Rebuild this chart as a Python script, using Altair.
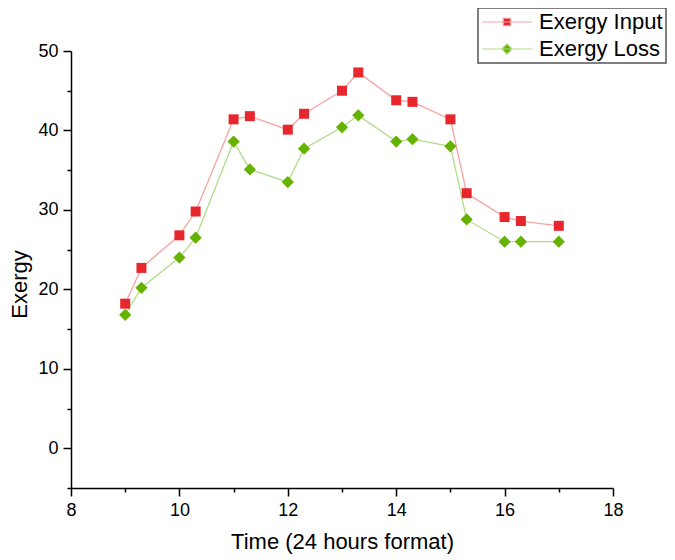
import altair as alt
import pandas as pd

# ---- data ----
times = [9, 9.3, 10, 10.3, 11, 11.3, 12, 12.3, 13, 13.3, 14, 14.3, 15, 15.3, 16, 16.3, 17]
exergy_input = [18.2, 22.7, 26.8, 29.8, 41.4, 41.8, 40.1, 42.1, 45.0, 47.3,
                43.8, 43.6, 41.4, 32.1, 29.1, 28.6, 28.0]
exergy_loss = [16.8, 20.2, 24.0, 26.5, 38.6, 35.1, 33.5, 37.7, 40.4, 41.9,
               38.6, 38.9, 38.0, 28.8, 26.0, 26.0, 26.0]
series_names = ["Exergy Input", "Exergy Loss"]
x_major = [8, 10, 12, 14, 16, 18]
x_minor = [9, 11, 13, 15, 17]
y_major = [0, 10, 20, 30, 40, 50]
y_minor = [-5, 5, 15, 25, 35, 45]

marker_colors = ["#E8262D", "#66B200"]
line_colors = ["#F4A3A3", "#B3DB8A"]

df = pd.DataFrame({
    "time": times * 2,
    "value": exergy_input + exergy_loss,
    "series": [series_names[0]] * len(times) + [series_names[1]] * len(times),
})

FONT = "Liberation Sans"
W, H = 542, 437

x_scale = alt.Scale(domain=[8, 18], nice=False, zero=False)
y_scale = alt.Scale(domain=[-5, 50], nice=False, zero=False)

axis_common = dict(
    domainColor="#000000", domainWidth=1.5, tickColor="#000000", tickWidth=1.5,
    labelFont=FONT, labelFontSize=18, labelColor="#000000",
    titleFont=FONT, titleFontSize=22, titleColor="#000000", titleFontWeight="normal",
    grid=False, labelFlush=False, labelOverlap=False, format="d",
)

x_axis = alt.Axis(values=x_major, tickSize=8, orient="bottom", labelPadding=5,
                  titlePadding=12, title="Time (24 hours format)", **axis_common)
y_axis = alt.Axis(values=y_major, tickSize=8, orient="left", labelPadding=5,
                  titlePadding=6, title="Exergy", titleY=233, **axis_common)

base = alt.Chart(df)

layers = []
for i, name in enumerate(series_names):
    sub = base.transform_filter(alt.datum.series == name)
    layers.append(
        sub.mark_line(strokeWidth=1.3).encode(
            x=alt.X("time:Q", scale=x_scale, axis=x_axis),
            y=alt.Y("value:Q", scale=y_scale, axis=y_axis),
            color=alt.value(line_colors[i]),
        )
    )
for i, name in enumerate(series_names):
    sub = base.transform_filter(alt.datum.series == name)
    layers.append(
        sub.mark_point(shape="square" if i == 0 else "diamond", filled=True, opacity=1,
                       size=100 if i == 0 else 150, strokeWidth=0).encode(
            x="time:Q",
            y="value:Q",
            color=alt.value(marker_colors[i]),
        )
    )

# legend layer (no data drawn; legend built from explicit domains)
sq_path = "M-5,0H5M-0.75,-0.75H0.75V0.75H-0.75Z"
dm_path = "M-5,0H5M0,-1.05L1.05,0L0,1.05L-1.05,0Z"
legend_layer = base.transform_filter("false").mark_point(
    filled=True, strokeWidth=1.2, opacity=1, size=100).encode(
    x="time:Q",
    y="value:Q",
    fill=alt.Fill("series:N", scale=alt.Scale(domain=series_names, range=marker_colors),
                  legend=alt.Legend(title=None)),
    stroke=alt.Stroke("series:N", scale=alt.Scale(domain=series_names, range=line_colors),
                      legend=alt.Legend(title=None)),
    shape=alt.Shape("series:N", scale=alt.Scale(domain=series_names, range=[sq_path, dm_path]),
                    legend=alt.Legend(title=None)),
)
layers.append(legend_layer)

main = alt.layer(*layers)

# minor ticks: a second pair of axes with no labels
minor = base.mark_point(opacity=0).encode(
    x=alt.X("time:Q", scale=x_scale,
            axis=alt.Axis(values=x_minor, tickSize=4, labels=False, domain=False, title=None,
                          tickColor="#000000", tickWidth=1.5, grid=False, orient="bottom")),
    y=alt.Y("value:Q", scale=y_scale,
            axis=alt.Axis(values=y_minor, tickSize=4, labels=False, domain=False, title=None,
                          tickColor="#000000", tickWidth=1.5, grid=False, orient="left")),
)

chart = alt.layer(main, minor).resolve_axis(
    x="independent", y="independent"
).properties(
    width=W, height=H,
    padding={"left": 63, "top": 43, "right": 54, "bottom": 66},
    autosize=alt.AutoSizeParams(type="none"),
).configure_view(stroke=None).configure_legend(
    orient="none", legendX=407, legendY=-43,
    strokeColor="#555555", strokeWidth=1.5, padding=3, fillColor="#ffffff",
    labelFont=FONT, labelFontSize=22, labelColor="#000000",
    symbolSize=100, symbolOffset=15, labelOffset=21, rowPadding=5,
    symbolStrokeWidth=1.2,
)

chart.save("out.html", embed_options={"renderer": "svg", "actions": False})
